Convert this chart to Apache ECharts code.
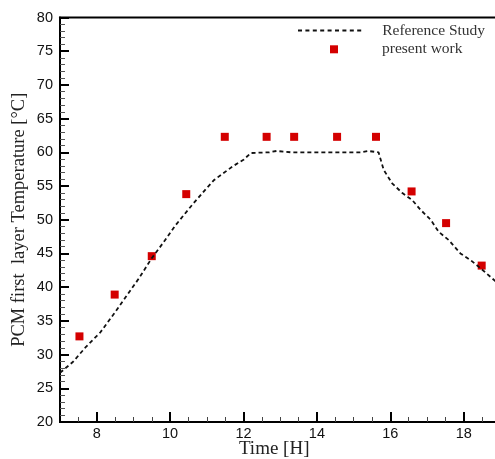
<!DOCTYPE html>
<html>
<head>
<meta charset="utf-8">
<script src="https://cdn.jsdelivr.net/npm/echarts@6/dist/echarts.min.js"></script>
<style>html,body{margin:0;padding:0;background:#fff;}#c{width:495px;height:459px;}</style>
</head>
<body>
<div id="c"></div>
<script>
var refTime = [7.0, 7.35, 7.7, 8.1, 8.45, 8.8, 9.15, 9.5, 9.8, 10.15, 10.6, 10.95, 11.2, 11.7, 12.0, 12.2, 12.7, 12.9, 13.3, 14.0, 14.7, 15.2, 15.4, 15.68, 15.82, 16.05, 16.32, 16.6, 16.82, 17.1, 17.32, 17.59, 17.91, 18.19, 18.46, 18.82, 19.0];
var refTemp = [27.3, 28.9, 31.1, 33.3, 35.9, 38.6, 41.3, 44.3, 46.5, 49.2, 52.2, 54.4, 55.9, 57.9, 58.9, 59.9, 60.0, 60.2, 60.0, 60.0, 60.0, 60.0, 60.2, 60.0, 57.4, 55.4, 54.0, 52.9, 51.5, 50.0, 48.2, 47.0, 45.0, 44.0, 42.8, 41.1, 40.3];
var presentTime = [7.53, 8.49, 9.5, 10.44, 11.49, 12.63, 13.38, 14.55, 15.61, 16.58, 17.52, 18.49];
var presentTemp = [32.7, 38.9, 44.6, 53.8, 62.3, 62.3, 62.3, 62.3, 62.3, 54.2, 49.5, 43.2];
var xMajorTicks = [8, 10, 12, 14, 16, 18];
var xMinorTicks = [7.5, 8.5, 9, 9.5, 10.5, 11, 11.5, 12.5, 13, 13.5, 14.5, 15, 15.5, 16.5, 17, 17.5, 18.5];
var seriesNames = ['Reference Study', 'present work'];

function pairs(a, b) { return a.map(function (v, i) { return [v, b[i]]; }); }

// legend icon: a dashed stroke (9 dashes)
var dashIcon = 'path://';
for (var k = 0; k < 9; k++) {
  var x0 = (k * 7.4).toFixed(1);
  dashIcon += 'M' + x0 + ',0h4v1.8h-4z';
}

var chart = echarts.init(document.getElementById('c'), null, { renderer: 'canvas' });
var serif = 'Liberation Serif, Times New Roman, serif';
var sans = 'Liberation Sans, Arial, sans-serif';
chart.setOption({
  animation: false,
  backgroundColor: '#fff',
  grid: { left: 60, top: 17.5, width: 440.4, height: 404.5, show: true, borderColor: '#000', borderWidth: 2,
          backgroundColor: 'transparent', containLabel: false, outerBoundsMode: 'none' },
  legend: [
    { data: [{ name: seriesNames[0], icon: dashIcon, itemStyle: { color: '#111' } }], left: 298, top: 22.5, padding: 0, orient: 'vertical',
      itemWidth: 63.2, itemHeight: 1.8, selectedMode: false,
      textStyle: { fontFamily: serif, fontSize: 15.5, color: '#333', padding: [0, 0, 0, 16] } },
    { data: [{ name: seriesNames[1], icon: 'rect' }], left: 330, top: 41.3, padding: 0, orient: 'vertical', itemWidth: 8, itemHeight: 8, selectedMode: false,
      textStyle: { fontFamily: serif, fontSize: 15.5, color: '#333', padding: [0, 0, 0, 39] } }
  ],
  xAxis: [
    { type: 'value', min: 7, max: 19, position: 'bottom',
      name: 'Time [H]', nameLocation: 'middle', nameGap: 18, nameMoveOverlap: false,
      nameTextStyle: { fontFamily: serif, fontSize: 19, color: '#222', padding: [0, 12, 0, 0] },
      axisLine: { show: true, lineStyle: { color: '#000', width: 2 } },
      axisTick: { show: true, inside: true, length: 10, customValues: xMajorTicks, lineStyle: { color: '#000', width: 2 } },
      axisLabel: { show: true, customValues: xMajorTicks, margin: 4, fontFamily: sans, fontSize: 14.5, color: '#111' },
      splitLine: { show: false }
    },
    { type: 'value', min: 7, max: 19, position: 'bottom',
      axisLine: { show: false },
      axisTick: { show: true, inside: true, length: 5, customValues: xMinorTicks, lineStyle: { color: '#444', width: 1 } },
      axisLabel: { show: false },
      splitLine: { show: false }
    }
  ],
  yAxis: {
    type: 'value', min: 20, max: 80, interval: 5,
    name: 'PCM first  layer Temperature [°C]', nameLocation: 'middle', nameGap: 31, nameMoveOverlap: false,
    nameTextStyle: { fontFamily: serif, fontSize: 18.5, color: '#222' },
    axisLine: { show: true, lineStyle: { color: '#000', width: 2 } },
    axisTick: { show: true, inside: true, length: 9, lineStyle: { color: '#000', width: 2 } },
    minorTick: { show: true, splitNumber: 5, length: 5, lineStyle: { color: '#555', width: 1 } },
    axisLabel: { margin: 7, fontFamily: sans, fontSize: 14.5, color: '#111' },
    splitLine: { show: false }
  },
  series: [
    { name: seriesNames[0], type: 'line', xAxisIndex: 0, data: pairs(refTime, refTemp), symbol: 'none', smooth: false,
      lineStyle: { color: '#111', width: 1.8, type: [4, 3] }, itemStyle: { color: '#111' } },
    { name: seriesNames[1], type: 'scatter', xAxisIndex: 0, data: pairs(presentTime, presentTemp), symbol: 'rect', symbolSize: 8,
      itemStyle: { color: '#d40000', opacity: 1 } }
  ]
});
</script>
</body>
</html>
